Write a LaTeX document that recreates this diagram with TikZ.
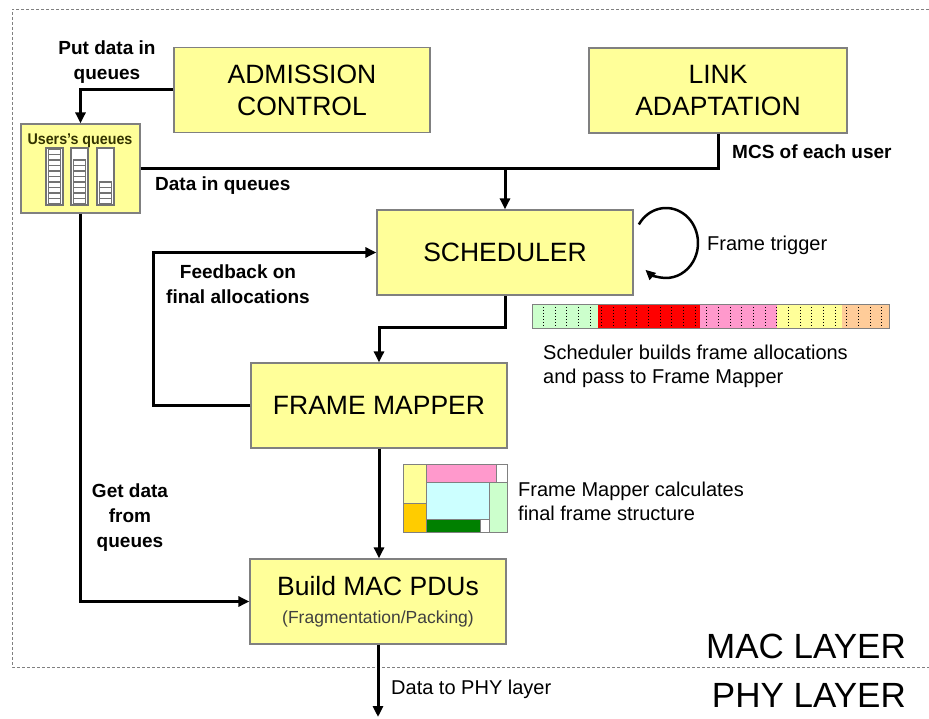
\documentclass[tikz,border=0pt]{standalone}
\usepackage{fontspec}
\usepackage{graphicx}
\setmainfont{Liberation Sans}
\usetikzlibrary{arrows.meta,calc}
\definecolor{boxfill}{RGB}{255,255,153}
\definecolor{boxline}{RGB}{128,128,128}
\definecolor{olivedark}{RGB}{51,51,0}
\definecolor{fgreen}{RGB}{204,255,204}
\definecolor{fred}{RGB}{255,0,0}
\definecolor{fpink}{RGB}{255,153,204}
\definecolor{fyellow}{RGB}{255,255,153}
\definecolor{forange}{RGB}{255,204,153}
\definecolor{fgold}{RGB}{255,204,0}
\definecolor{fcyan}{RGB}{204,255,255}
\definecolor{fdgreen}{RGB}{0,128,0}
\begin{document}
\begin{tikzpicture}[x=1pt,y=-1pt,
  box/.style={draw=boxline, fill=boxfill, line width=1.2pt, minimum width=256pt, minimum height=85pt, inner sep=0pt, align=center, font=\fontsize{26.5}{32}\selectfont},
  arr/.style={line width=3pt, -{Triangle[length=11pt,width=10pt]}},
  conn/.style={line width=3pt},
  lbl/.style={inner sep=0pt, align=center, font=\bfseries\fontsize{19}{25}\selectfont},
  rlbl/.style={inner sep=0pt, align=left, font=\fontsize{20}{24}\selectfont},
  cell/.style={draw=boxline, line width=0.8pt},
  qcell/.style={draw=black!55, line width=1.1pt}
]
\useasboundingbox (0,0) rectangle (929,719);
% layer frame
\draw[boxline, dash pattern=on 3pt off 2pt, line width=0.8pt] (929,9) -- (12,9) -- (12,667) -- (929,667);

% boxes
\node[box] (ac) at (302,90) {ADMISSION\\CONTROL};
\node[box, minimum width=258pt] (la) at (718,90.5) {LINK\\ADAPTATION};
\node[draw=boxline, fill=boxfill, line width=1.2pt, minimum width=119pt, minimum height=89pt, inner sep=0pt] (uq) at (80.5,168.5) {};
\node[box] (sch) at (505,252.5) {SCHEDULER};
\node[box] (fm) at (379,405.5) {FRAME MAPPER};
\node[box] (mac) at (378,601.5) {Build MAC PDUs\\[-4pt]{\fontsize{17.5}{20}\selectfont\color{black!75}(Fragmentation/Packing)}};

% users's queues content
\node[inner sep=0pt, font=\bfseries\fontsize{15.5}{15}\selectfont, text=olivedark] (uqt) at (80,141) {\scalebox{0.92}[1]{Users's queues}};
\foreach \bx/\n in {46/10, 71/8, 97/4} {
  \draw[qcell, fill=white] (\bx,148) rectangle ++(17,57);
  \foreach \i in {1,...,\n} \draw[qcell, fill=white] (\bx+2.5, 204-\i*5.5) rectangle ++(12,5.5);
}

% connectors
\coordinate (j) at (sch.north |- uq.east);
\coordinate (k) at (505,328);
\coordinate (fb) at (153,405.5);
\coordinate (phy) at (378,717);
\draw[arr] (ac.west) -| (uq.north);
\draw[arr] (uq.east) -| (sch.north);
\draw[conn] (la.south) |- (j);
\draw[arr] (sch.south) -- (k) -| (fm.north);
\draw[arr] (fm.west) -- (fb) |- (sch.west);
\draw[arr] (fm.south) -- (fm.south |- mac.north);
\draw[arr] (uq.south) |- (mac.west);
\draw[arr] (mac.south) -- (phy);

% frame trigger loop
\draw[line width=2.5pt, -{Triangle[length=10pt,width=9pt]}] (666,243) ++(212:32 and 35) arc[start angle=212, end angle=490, x radius=32, y radius=35];

% labels
\node[lbl] (pd) at (107,62) {Put data in\\queues};
\node[lbl, anchor=west] (dq) at (155,186) {Data in queues};
\node[lbl, anchor=west] (mcs) at (732,152) {MCS of each user};
\node[rlbl, anchor=west] (ft) at (707,245) {Frame trigger};
\node[lbl] (fbl) at (238,284) {Feedback on\\final allocations};
\node[lbl] (gd) at (130,518) {Get data\\from\\queues};
\node[rlbl, anchor=north west] (sb) at (543,345) {Scheduler builds frame allocations\\and pass to Frame Mapper};
\node[rlbl, anchor=north west] (fmc) at (518,482) {Frame Mapper calculates\\final frame structure};
\node[rlbl, anchor=west] (dp) at (391,689) {Data to PHY layer};
\node[inner sep=0pt, font=\fontsize{35}{35}\selectfont, anchor=east] (macl) at (906,646) {MAC LAYER};
\node[inner sep=0pt, font=\fontsize{35}{35}\selectfont, anchor=east] (phyl) at (906,695) {PHY LAYER};

% frame allocation bar
\fill[fgreen] (532,304) rectangle (598,328);
\fill[fred] (598,304) rectangle (700,328);
\fill[fpink] (700,304) rectangle (777,328);
\fill[fyellow] (777,304) rectangle (842,328);
\fill[forange] (842,304) rectangle (889,328);
\foreach \k in {0,...,29} \draw[dash pattern=on 1.5pt off 1.5pt, line width=0.7pt] (543.3+\k*11.67,307) -- ++(0,19);
\draw[boxline, line width=0.8pt] (532,304) rectangle (889,328);

% frame structure icon
\draw[cell, fill=fyellow] (403,464) rectangle (426,503);
\draw[cell, fill=fgold] (403,503) rectangle (426,532);
\draw[cell, fill=fpink] (426,464) rectangle (496,482);
\draw[cell, fill=white] (496,464) rectangle (507,482);
\draw[cell, fill=fcyan] (426,482) rectangle (489,519);
\draw[cell, fill=fgreen] (489,482) rectangle (507,532);
\draw[cell, fill=fdgreen] (426,519) rectangle (480,532);
\draw[cell, fill=white] (480,519) rectangle (489,532);
\end{tikzpicture}
\end{document}
